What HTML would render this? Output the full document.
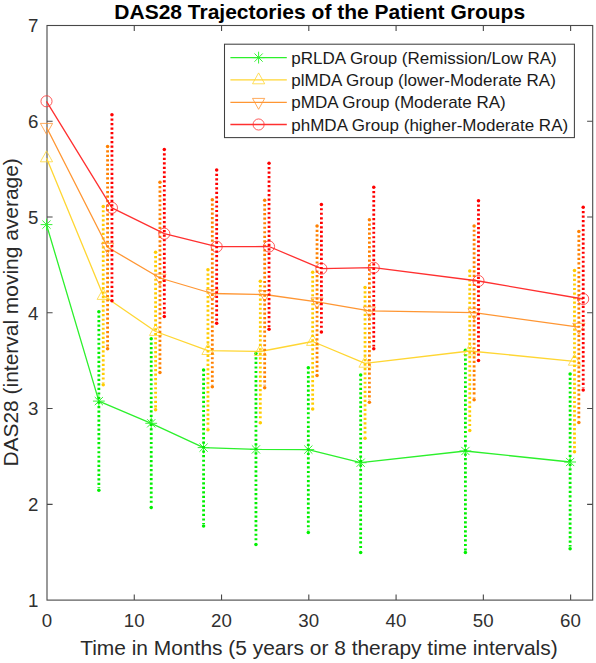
<!DOCTYPE html>
<html><head><meta charset="utf-8"><title>DAS28 Trajectories</title>
<style>
html,body{margin:0;padding:0;background:#fff;}
body{width:596px;height:663px;overflow:hidden;font-family:"Liberation Sans",sans-serif;}
svg{display:block;font-family:"Liberation Sans",sans-serif;}
.tk{font-size:18.7px;fill:#303030;}
.lb{font-size:20.95px;fill:#2a2a2a;}
.lg{font-size:17px;fill:#1a1a1a;}
.tt{font-size:21.0px;font-weight:bold;fill:#000;}
</style></head><body>
<svg width="596" height="663" viewBox="0 0 596 663">
<rect x="0" y="0" width="596" height="663" fill="#fff"/>
<text class="tt" x="319.7" y="18.5" text-anchor="middle">DAS28 Trajectories of the Patient Groups</text>
<rect x="47.0" y="25.5" width="545.70" height="574.60" fill="none" stroke="#484848" stroke-width="1.1"/>
<path d="M134.27 600.1V594.5M134.27 25.5V31.1M221.54 600.1V594.5M221.54 25.5V31.1M308.81 600.1V594.5M308.81 25.5V31.1M396.08 600.1V594.5M396.08 25.5V31.1M483.35 600.1V594.5M483.35 25.5V31.1M570.62 600.1V594.5M570.62 25.5V31.1M47.0 504.33H52.6M592.7 504.33H587.1M47.0 408.56H52.6M592.7 408.56H587.1M47.0 312.79H52.6M592.7 312.79H587.1M47.0 217.02H52.6M592.7 217.02H587.1M47.0 121.25H52.6M592.7 121.25H587.1" fill="none" stroke="#484848" stroke-width="1.1"/>
<text class="tk" x="46.90" y="626.8" text-anchor="middle">0</text>
<text class="tk" x="134.17" y="626.8" text-anchor="middle">10</text>
<text class="tk" x="221.44" y="626.8" text-anchor="middle">20</text>
<text class="tk" x="308.71" y="626.8" text-anchor="middle">30</text>
<text class="tk" x="395.98" y="626.8" text-anchor="middle">40</text>
<text class="tk" x="483.25" y="626.8" text-anchor="middle">50</text>
<text class="tk" x="570.52" y="626.8" text-anchor="middle">60</text>
<text class="tk" x="38.5" y="606.90" text-anchor="end">1</text>
<text class="tk" x="38.5" y="511.13" text-anchor="end">2</text>
<text class="tk" x="38.5" y="415.36" text-anchor="end">3</text>
<text class="tk" x="38.5" y="319.59" text-anchor="end">4</text>
<text class="tk" x="38.5" y="223.82" text-anchor="end">5</text>
<text class="tk" x="38.5" y="128.05" text-anchor="end">6</text>
<text class="tk" x="38.5" y="32.28" text-anchor="end">7</text>
<text class="lb" x="318.9" y="654.6" text-anchor="middle">Time in Months (5 years or 8 therapy time intervals)</text>
<text class="lb" transform="translate(17.6,312.4) rotate(-90)" text-anchor="middle">DAS28 (interval moving average)</text>
<polyline points="46.50,224.60 98.86,401.10 151.22,423.30 203.59,447.60 255.95,449.40 308.31,449.60 360.67,462.70 465.40,451.00 570.12,462.00" fill="none" stroke="#2cf02c" stroke-width="1.3" stroke-linejoin="round"/>
<path d="M40.60 224.60H52.40M46.50 218.70V230.50M42.40 220.50L50.60 228.70M42.40 228.70L50.60 220.50" fill="none" stroke="#2cf02c" stroke-width="0.95"/>
<path d="M92.96 401.10H104.76M98.86 395.20V407.00M94.76 397.00L102.96 405.20M94.76 405.20L102.96 397.00" fill="none" stroke="#2cf02c" stroke-width="0.95"/>
<path d="M145.32 423.30H157.12M151.22 417.40V429.20M147.12 419.20L155.32 427.40M147.12 427.40L155.32 419.20" fill="none" stroke="#2cf02c" stroke-width="0.95"/>
<path d="M197.69 447.60H209.49M203.59 441.70V453.50M199.49 443.50L207.69 451.70M199.49 451.70L207.69 443.50" fill="none" stroke="#2cf02c" stroke-width="0.95"/>
<path d="M250.05 449.40H261.85M255.95 443.50V455.30M251.85 445.30L260.05 453.50M251.85 453.50L260.05 445.30" fill="none" stroke="#2cf02c" stroke-width="0.95"/>
<path d="M302.41 449.60H314.21M308.31 443.70V455.50M304.21 445.50L312.41 453.70M304.21 453.70L312.41 445.50" fill="none" stroke="#2cf02c" stroke-width="0.95"/>
<path d="M354.77 462.70H366.57M360.67 456.80V468.60M356.57 458.60L364.77 466.80M356.57 466.80L364.77 458.60" fill="none" stroke="#2cf02c" stroke-width="0.95"/>
<path d="M459.50 451.00H471.30M465.40 445.10V456.90M461.30 446.90L469.50 455.10M461.30 455.10L469.50 446.90" fill="none" stroke="#2cf02c" stroke-width="0.95"/>
<path d="M564.22 462.00H576.02M570.12 456.10V467.90M566.02 457.90L574.22 466.10M566.02 466.10L574.22 457.90" fill="none" stroke="#2cf02c" stroke-width="0.95"/>
<path d="M98.86 315.55V488.00M151.22 342.45V505.30M203.59 373.75V523.90M255.95 357.35V542.30M308.31 371.45V530.20M360.67 378.65V550.40M465.40 354.05V550.40M570.12 377.85V546.60" fill="none" stroke="#00f000" stroke-width="2.8" stroke-dasharray="2.2 2.32"/>
<g fill="#00f000"><circle cx="98.86" cy="311.80" r="1.75"/><circle cx="98.86" cy="490.20" r="1.75"/><circle cx="151.22" cy="338.70" r="1.75"/><circle cx="151.22" cy="507.50" r="1.75"/><circle cx="203.59" cy="370.00" r="1.75"/><circle cx="203.59" cy="526.10" r="1.75"/><circle cx="255.95" cy="353.60" r="1.75"/><circle cx="255.95" cy="544.50" r="1.75"/><circle cx="308.31" cy="367.70" r="1.75"/><circle cx="308.31" cy="532.40" r="1.75"/><circle cx="360.67" cy="374.90" r="1.75"/><circle cx="360.67" cy="552.60" r="1.75"/><circle cx="465.40" cy="350.30" r="1.75"/><circle cx="465.40" cy="552.60" r="1.75"/><circle cx="570.12" cy="374.10" r="1.75"/><circle cx="570.12" cy="548.80" r="1.75"/></g>
<polyline points="46.50,157.90 103.23,295.50 155.59,331.50 207.95,350.60 260.31,351.50 312.67,341.50 365.04,363.30 469.76,351.00 574.48,361.30" fill="none" stroke="#ffd633" stroke-width="1.3" stroke-linejoin="round"/>
<path d="M40.40 161.80L52.60 161.80L46.50 150.90Z" fill="none" stroke="#ffd633" stroke-width="0.8" stroke-linejoin="miter"/>
<path d="M97.13 299.40L109.33 299.40L103.23 288.50Z" fill="none" stroke="#ffd633" stroke-width="0.8" stroke-linejoin="miter"/>
<path d="M149.49 335.40L161.69 335.40L155.59 324.50Z" fill="none" stroke="#ffd633" stroke-width="0.8" stroke-linejoin="miter"/>
<path d="M201.85 354.50L214.05 354.50L207.95 343.60Z" fill="none" stroke="#ffd633" stroke-width="0.8" stroke-linejoin="miter"/>
<path d="M254.21 355.40L266.41 355.40L260.31 344.50Z" fill="none" stroke="#ffd633" stroke-width="0.8" stroke-linejoin="miter"/>
<path d="M306.57 345.40L318.77 345.40L312.67 334.50Z" fill="none" stroke="#ffd633" stroke-width="0.8" stroke-linejoin="miter"/>
<path d="M358.94 367.20L371.14 367.20L365.04 356.30Z" fill="none" stroke="#ffd633" stroke-width="0.8" stroke-linejoin="miter"/>
<path d="M463.66 354.90L475.86 354.90L469.76 344.00Z" fill="none" stroke="#ffd633" stroke-width="0.8" stroke-linejoin="miter"/>
<path d="M568.38 365.20L580.58 365.20L574.48 354.30Z" fill="none" stroke="#ffd633" stroke-width="0.8" stroke-linejoin="miter"/>
<path d="M103.23 210.15V382.50M155.59 256.05V407.50M207.95 273.45V427.50M260.31 285.05V420.60M312.67 276.05V406.80M365.04 291.25V436.00M469.76 274.75V428.30M574.48 274.35V449.60" fill="none" stroke="#ffcc00" stroke-width="2.8" stroke-dasharray="2.2 2.32"/>
<g fill="#ffcc00"><circle cx="103.23" cy="206.40" r="1.75"/><circle cx="103.23" cy="384.70" r="1.75"/><circle cx="155.59" cy="252.30" r="1.75"/><circle cx="155.59" cy="409.70" r="1.75"/><circle cx="207.95" cy="269.70" r="1.75"/><circle cx="207.95" cy="429.70" r="1.75"/><circle cx="260.31" cy="281.30" r="1.75"/><circle cx="260.31" cy="422.80" r="1.75"/><circle cx="312.67" cy="272.30" r="1.75"/><circle cx="312.67" cy="409.00" r="1.75"/><circle cx="365.04" cy="287.50" r="1.75"/><circle cx="365.04" cy="438.20" r="1.75"/><circle cx="469.76" cy="271.00" r="1.75"/><circle cx="469.76" cy="430.50" r="1.75"/><circle cx="574.48" cy="270.60" r="1.75"/><circle cx="574.48" cy="451.80" r="1.75"/></g>
<polyline points="46.50,127.30 107.59,247.20 159.95,278.00 212.31,293.50 264.68,294.50 317.04,301.80 369.40,310.80 474.12,312.60 578.85,327.20" fill="none" stroke="#ff9633" stroke-width="1.3" stroke-linejoin="round"/>
<path d="M40.40 123.40L52.60 123.40L46.50 134.30Z" fill="none" stroke="#ff9633" stroke-width="0.8" stroke-linejoin="miter"/>
<path d="M101.49 243.30L113.69 243.30L107.59 254.20Z" fill="none" stroke="#ff9633" stroke-width="0.8" stroke-linejoin="miter"/>
<path d="M153.85 274.10L166.05 274.10L159.95 285.00Z" fill="none" stroke="#ff9633" stroke-width="0.8" stroke-linejoin="miter"/>
<path d="M206.21 289.60L218.41 289.60L212.31 300.50Z" fill="none" stroke="#ff9633" stroke-width="0.8" stroke-linejoin="miter"/>
<path d="M258.57 290.60L270.78 290.60L264.68 301.50Z" fill="none" stroke="#ff9633" stroke-width="0.8" stroke-linejoin="miter"/>
<path d="M310.94 297.90L323.14 297.90L317.04 308.80Z" fill="none" stroke="#ff9633" stroke-width="0.8" stroke-linejoin="miter"/>
<path d="M363.30 306.90L375.50 306.90L369.40 317.80Z" fill="none" stroke="#ff9633" stroke-width="0.8" stroke-linejoin="miter"/>
<path d="M468.02 308.70L480.22 308.70L474.12 319.60Z" fill="none" stroke="#ff9633" stroke-width="0.8" stroke-linejoin="miter"/>
<path d="M572.75 323.30L584.95 323.30L578.85 334.20Z" fill="none" stroke="#ff9633" stroke-width="0.8" stroke-linejoin="miter"/>
<path d="M107.59 150.25V346.60M159.95 186.05V370.40M212.31 203.45V384.50M264.68 204.05V385.50M317.04 229.75V373.40M369.40 223.45V400.10M474.12 229.65V397.50M578.85 235.25V420.40" fill="none" stroke="#ff8000" stroke-width="2.8" stroke-dasharray="2.2 2.32"/>
<g fill="#ff8000"><circle cx="107.59" cy="146.50" r="1.75"/><circle cx="107.59" cy="348.80" r="1.75"/><circle cx="159.95" cy="182.30" r="1.75"/><circle cx="159.95" cy="372.60" r="1.75"/><circle cx="212.31" cy="199.70" r="1.75"/><circle cx="212.31" cy="386.70" r="1.75"/><circle cx="264.68" cy="200.30" r="1.75"/><circle cx="264.68" cy="387.70" r="1.75"/><circle cx="317.04" cy="226.00" r="1.75"/><circle cx="317.04" cy="375.60" r="1.75"/><circle cx="369.40" cy="219.70" r="1.75"/><circle cx="369.40" cy="402.30" r="1.75"/><circle cx="474.12" cy="225.90" r="1.75"/><circle cx="474.12" cy="399.70" r="1.75"/><circle cx="578.85" cy="231.50" r="1.75"/><circle cx="578.85" cy="422.60" r="1.75"/></g>
<polyline points="46.50,101.30 111.95,207.80 164.31,233.70 216.68,246.70 269.04,246.50 321.40,268.70 373.76,267.70 478.49,281.00 583.21,299.00" fill="none" stroke="#ff3030" stroke-width="1.3" stroke-linejoin="round"/>
<circle cx="46.50" cy="101.30" r="5.55" fill="none" stroke="#ff3030" stroke-width="0.8"/>
<circle cx="111.95" cy="207.80" r="5.55" fill="none" stroke="#ff3030" stroke-width="0.8"/>
<circle cx="164.31" cy="233.70" r="5.55" fill="none" stroke="#ff3030" stroke-width="0.8"/>
<circle cx="216.68" cy="246.70" r="5.55" fill="none" stroke="#ff3030" stroke-width="0.8"/>
<circle cx="269.04" cy="246.50" r="5.55" fill="none" stroke="#ff3030" stroke-width="0.8"/>
<circle cx="321.40" cy="268.70" r="5.55" fill="none" stroke="#ff3030" stroke-width="0.8"/>
<circle cx="373.76" cy="267.70" r="5.55" fill="none" stroke="#ff3030" stroke-width="0.8"/>
<circle cx="478.49" cy="281.00" r="5.55" fill="none" stroke="#ff3030" stroke-width="0.8"/>
<circle cx="583.21" cy="299.00" r="5.55" fill="none" stroke="#ff3030" stroke-width="0.8"/>
<path d="M111.95 118.45V298.60M164.31 153.25V314.20M216.68 173.75V321.10M269.04 166.95V327.00M321.40 208.15V329.80M373.76 190.95V346.50M478.49 204.45V358.30M583.21 210.95V387.80" fill="none" stroke="#ff0000" stroke-width="2.8" stroke-dasharray="2.2 2.32"/>
<g fill="#ff0000"><circle cx="111.95" cy="114.70" r="1.75"/><circle cx="111.95" cy="300.80" r="1.75"/><circle cx="164.31" cy="149.50" r="1.75"/><circle cx="164.31" cy="316.40" r="1.75"/><circle cx="216.68" cy="170.00" r="1.75"/><circle cx="216.68" cy="323.30" r="1.75"/><circle cx="269.04" cy="163.20" r="1.75"/><circle cx="269.04" cy="329.20" r="1.75"/><circle cx="321.40" cy="204.40" r="1.75"/><circle cx="321.40" cy="332.00" r="1.75"/><circle cx="373.76" cy="187.20" r="1.75"/><circle cx="373.76" cy="348.70" r="1.75"/><circle cx="478.49" cy="200.70" r="1.75"/><circle cx="478.49" cy="360.50" r="1.75"/><circle cx="583.21" cy="207.20" r="1.75"/><circle cx="583.21" cy="390.00" r="1.75"/></g>
<rect x="224.5" y="44.2" width="349.90" height="93.40" fill="#fff" stroke="#404040" stroke-width="1.05"/>
<path d="M230.4 57.6H286.8" stroke="#2cf02c" stroke-width="1.3" fill="none"/>
<path d="M252.70 57.60H264.50M258.60 51.70V63.50M254.50 53.50L262.70 61.70M254.50 61.70L262.70 53.50" fill="none" stroke="#2cf02c" stroke-width="0.95"/>
<text class="lg" x="291.3" y="63.60">pRLDA Group (Remission/Low RA)</text>
<path d="M230.4 79.9H286.8" stroke="#ffd633" stroke-width="1.3" fill="none"/>
<path d="M252.50 83.80L264.70 83.80L258.60 72.90Z" fill="none" stroke="#ffd633" stroke-width="0.8" stroke-linejoin="miter"/>
<text class="lg" x="291.3" y="85.90">plMDA Group (lower-Moderate RA)</text>
<path d="M230.4 102.3H286.8" stroke="#ff9633" stroke-width="1.3" fill="none"/>
<path d="M252.50 98.40L264.70 98.40L258.60 109.30Z" fill="none" stroke="#ff9633" stroke-width="0.8" stroke-linejoin="miter"/>
<text class="lg" x="291.3" y="108.30">pMDA Group (Moderate RA)</text>
<path d="M230.4 124.5H286.8" stroke="#ff3030" stroke-width="1.3" fill="none"/>
<circle cx="258.60" cy="124.50" r="5.55" fill="none" stroke="#ff3030" stroke-width="0.8"/>
<text class="lg" x="291.3" y="130.50">phMDA Group (higher-Moderate RA)</text>
</svg></body></html>
